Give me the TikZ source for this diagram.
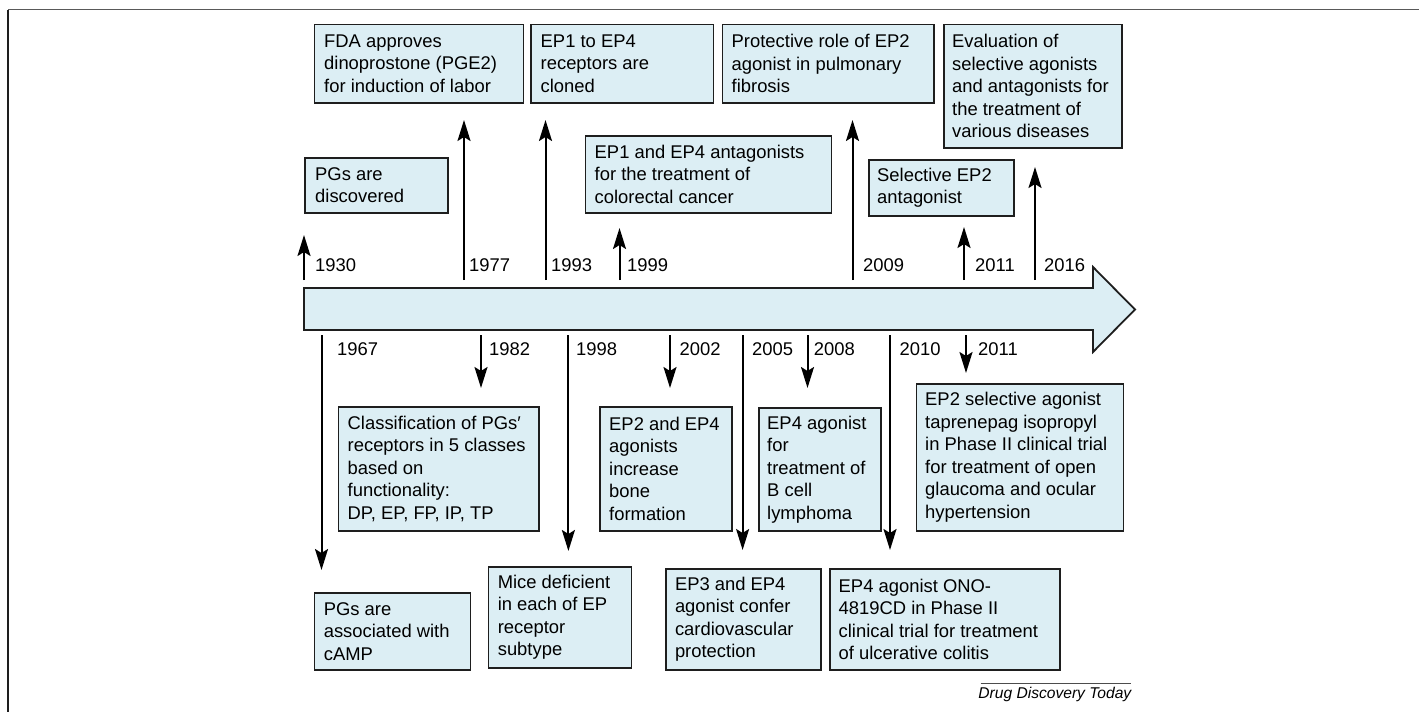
\documentclass[tikz,border=0pt]{standalone}
\usepackage{fontspec}
\setmainfont{Liberation Sans}
\usetikzlibrary{arrows.meta}
\definecolor{boxfill}{RGB}{220,238,244}
\definecolor{edge}{RGB}{30,30,30}
\begin{document}
\begin{tikzpicture}[x=1pt,y=-1pt,
  box/.style={draw=edge, fill=boxfill, line width=1.8pt, rectangle, inner sep=0pt, anchor=north west},
  txt/.style={align=left, inner sep=0pt, anchor=west, font=\fontsize{18.4}{22.5}\selectfont},
  yr/.style={inner sep=0pt, anchor=west, font=\fontsize{18.4}{22.5}\selectfont},
  evt/.style={draw=black, line width=2pt, -{Stealth[length=21pt,width=13pt,inset=4pt]}},
]
\useasboundingbox (0,0) rectangle (1419,712);
% frame
\draw[line width=1.3pt, black!65] (8,9.5) -- (1419,9.5);
\draw[line width=1.5pt, edge] (8,9.5) -- (8,712);
% timeline arrow
\draw[draw=edge, fill=boxfill, line width=1.8pt, line join=miter]
  (304,288) -- (1093,288) -- (1093,267) -- (1135,309.5) -- (1093,352) -- (1093,330) -- (304,330) -- cycle;

% ---------- upper boxes ----------
\node[box, minimum width=209, minimum height=78.5] (fda) at (313.5,23.5) {};
\node[txt] (fdat) at ([xshift=10.5pt]fda.west) {FDA approves\\dinoprostone (PGE2)\\for induction of labor};
\node[box, minimum width=182.5, minimum height=78.5] (clon) at (530,23.5) {};
\node[txt] (clont) at ([xshift=10.5pt]clon.west) {EP1 to EP4\\receptors are\\cloned};
\node[box, minimum width=211.5, minimum height=78.5] (prot) at (721.5,23.5) {};
\node[txt] (prott) at ([xshift=10pt]prot.west) {Protective role of EP2\\agonist in pulmonary\\fibrosis};
\node[box, minimum width=178, minimum height=123.5] (eval) at (943,23.5) {};
\node[txt] (evalt) at ([xshift=9pt]eval.west) {Evaluation of\\selective agonists\\and antagonists for\\the treatment of\\various diseases};
\node[box, minimum width=143, minimum height=55] (disc) at (304,157) {};
\node[txt] (disct) at ([xshift=11pt]disc.west) {PGs are\\discovered};
\node[box, minimum width=246, minimum height=77] (antag) at (584.5,135) {};
\node[txt] (antagt) at ([xshift=10pt]antag.west) {EP1 and EP4 antagonists\\for the treatment of\\colorectal cancer};
\node[box, minimum width=145, minimum height=56] (sel) at (868,159) {};
\node[txt] (selt) at ([xshift=9pt]sel.west) {Selective EP2\\antagonist};

% ---------- lower boxes ----------
\node[box, minimum width=200.5, minimum height=124] (class) at (337.5,406) {};
\node[txt] (classt) at ([xshift=10pt]class.west) {Classification of PGs′\\receptors in 5 classes\\based on\\functionality:\\DP, EP, FP, IP, TP};
\node[box, minimum width=132, minimum height=124] (bone) at (599,406) {};
\node[txt] (bonet) at ([xshift=10pt]bone.west) {EP2 and EP4\\agonists\\increase\\bone\\formation};
\node[box, minimum width=122, minimum height=123] (bcell) at (758,407) {};
\node[txt] (bcellt) at ([xshift=9pt]bcell.west) {EP4 agonist\\for\\treatment of\\B cell\\lymphoma};
\node[box, minimum width=207, minimum height=147] (tap) at (915.5,383) {};
\node[txt] (tapt) at ([xshift=9.5pt]tap.west) {EP2 selective agonist\\taprenepag isopropyl\\in Phase II clinical trial\\for treatment of open\\glaucoma and ocular\\hypertension};
\node[box, minimum width=156, minimum height=77] (camp) at (313.6,592) {};
\node[txt] (campt) at ([xshift=10pt]camp.west) {PGs are\\associated with\\cAMP};
\node[box, minimum width=143, minimum height=101] (mice) at (487.6,566) {};
\node[txt] (micet) at ([xshift=10pt]mice.west) {Mice deficient\\in each of EP\\receptor\\subtype};
\node[box, minimum width=155, minimum height=101] (cardio) at (664.8,568) {};
\node[txt] (cardiot) at ([xshift=10pt]cardio.west) {EP3 and EP4\\agonist confer\\cardiovascular\\protection};
\node[box, minimum width=230, minimum height=101] (ono) at (829,568) {};
\node[txt] (onot) at ([xshift=9.5pt]ono.west) {EP4 agonist ONO-\\4819CD in Phase II\\clinical trial for treatment\\of ulcerative colitis};

% ---------- upward events ----------
\foreach \n/\x/\t/\lx in {1930/304/235/315, 1977/464/120/469, 1993/545.5/120/551,
    1999/619.5/228/627, 2009/852.5/120/863, 2011/964/227/975, 2016/1035/167/1044}{
  \coordinate (u\n s) at (\x,280);
  \coordinate (u\n e) at (\x,\t);
  \draw[evt] (u\n s) -- (u\n e);
  \node[yr] (uy\n) at (\lx,265) {\n};
}
% ---------- downward events ----------
\foreach \n/\x/\t/\lx in {1967/321.5/570/337, 1982/481/388/489, 1998/568.4/551/576,
    2002/670/388/679.5, 2005/742.6/550/752, 2008/807.5/388/813.7,
    2010/890/550/899.5, 2011/966/373/978}{
  \coordinate (d\n s) at (\x,335);
  \coordinate (d\n e) at (\x,\t);
  \draw[evt] (d\n s) -- (d\n e);
  \node[yr] (dy\n) at (\lx,349) {\n};
}

% ---------- credit ----------
\coordinate (crl) at (980.6,683);
\coordinate (crr) at (1131,683);
\draw[line width=0.9pt, black!70] (crl) -- (crr);
\node[inner sep=0pt, anchor=east, font=\fontsize{15.6}{18}\selectfont\itshape] (credit) at (1131.5,694) {Drug Discovery Today};
\end{tikzpicture}
\end{document}
